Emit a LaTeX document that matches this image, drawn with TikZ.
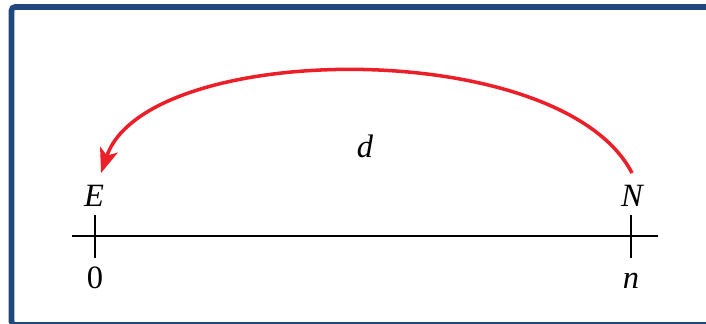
\documentclass[tikz,border=0pt]{standalone}
\usepackage{fontspec}
\setmainfont{Liberation Serif}
\usetikzlibrary{arrows.meta, positioning}
\definecolor{frameblue}{RGB}{31,73,125}
\definecolor{arcred}{RGB}{236,30,40}

\begin{document}
\begin{tikzpicture}[x=0.02cm, y=0.02cm,
    lbl/.style={font=\fontsize{18.5}{20}\selectfont\itshape, inner sep=0pt, anchor=base},
    axisline/.style={line width=1.1pt}]
\useasboundingbox (0,0) rectangle (706,324);
\clip (0,0) rectangle (706,324);

% Frame (right and bottom edges run off the picture)
\draw[frameblue, line width=3.2pt, rounded corners=2pt] (11.5,-1) rectangle (712,317);

% Number line with ticks
\coordinate (left) at (72,88);
\coordinate (right) at (658,88);
\draw[axisline] (left) -- (right);
\draw[axisline] (95,109) -- (95,66);
\draw[axisline] (631,109) -- (631,66);

% Labels
\node[lbl] (E) at (94,117) {E};
\node[lbl] (N) at (632,117) {N};
\node[lbl, font=\fontsize{18.5}{20}\selectfont] (zero) at (95,35) {0};
\node[lbl] (n) at (631,35) {n};
\node[lbl] (d) at (365,166) {d};

% Arc from N back to E
\draw[arcred, line width=2pt, -{Stealth[length=14pt, width=10.5pt, inset=3.5pt]}]
    ([yshift=7pt]N.north) .. controls +(-71,138) and +(45,133) .. ([shift={(4pt,7pt)}]E.north);

\end{tikzpicture}
\end{document}
